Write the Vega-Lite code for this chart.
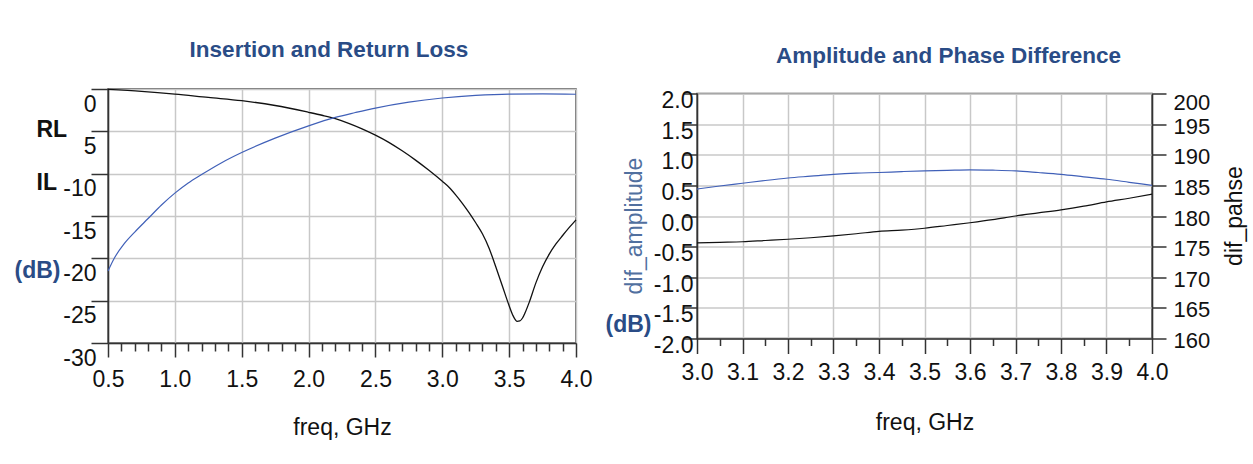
{
  "$schema": "https://vega.github.io/schema/vega-lite/v6.json",
  "background": "white",
  "padding": {"left": 13, "top": 38, "right": 5, "bottom": 5},
  "datasets": {
    "loss": [
      {"f": 0.5, "series": "RL", "db": -0.05}, {"f": 0.75, "series": "RL", "db": -0.28},
      {"f": 1.0, "series": "RL", "db": -0.6}, {"f": 1.25, "series": "RL", "db": -1.0},
      {"f": 1.5, "series": "RL", "db": -1.38}, {"f": 1.75, "series": "RL", "db": -1.95},
      {"f": 2.0, "series": "RL", "db": -2.75}, {"f": 2.1, "series": "RL", "db": -3.1},
      {"f": 2.2, "series": "RL", "db": -3.5}, {"f": 2.3, "series": "RL", "db": -4.05},
      {"f": 2.4, "series": "RL", "db": -4.7}, {"f": 2.5, "series": "RL", "db": -5.45},
      {"f": 2.6, "series": "RL", "db": -6.3}, {"f": 2.7, "series": "RL", "db": -7.3},
      {"f": 2.8, "series": "RL", "db": -8.4}, {"f": 2.9, "series": "RL", "db": -9.6},
      {"f": 3.0, "series": "RL", "db": -10.9}, {"f": 3.05, "series": "RL", "db": -11.6},
      {"f": 3.1, "series": "RL", "db": -12.5}, {"f": 3.15, "series": "RL", "db": -13.5},
      {"f": 3.2, "series": "RL", "db": -14.6}, {"f": 3.25, "series": "RL", "db": -15.8},
      {"f": 3.3, "series": "RL", "db": -17.1}, {"f": 3.35, "series": "RL", "db": -18.8},
      {"f": 3.4, "series": "RL", "db": -21.0}, {"f": 3.45, "series": "RL", "db": -23.3},
      {"f": 3.5, "series": "RL", "db": -25.6}, {"f": 3.53, "series": "RL", "db": -26.8},
      {"f": 3.56, "series": "RL", "db": -27.45}, {"f": 3.58, "series": "RL", "db": -27.4},
      {"f": 3.6, "series": "RL", "db": -27.05}, {"f": 3.62, "series": "RL", "db": -26.4},
      {"f": 3.65, "series": "RL", "db": -25.2}, {"f": 3.7, "series": "RL", "db": -22.9},
      {"f": 3.75, "series": "RL", "db": -21.0}, {"f": 3.8, "series": "RL", "db": -19.5},
      {"f": 3.85, "series": "RL", "db": -18.3}, {"f": 3.9, "series": "RL", "db": -17.3},
      {"f": 3.95, "series": "RL", "db": -16.35}, {"f": 4.0, "series": "RL", "db": -15.45},
      {"f": 0.5, "series": "IL", "db": -21.5}, {"f": 0.55, "series": "IL", "db": -19.9},
      {"f": 0.62, "series": "IL", "db": -18.3}, {"f": 0.7, "series": "IL", "db": -16.9},
      {"f": 0.8, "series": "IL", "db": -15.3}, {"f": 0.9, "series": "IL", "db": -13.7},
      {"f": 1.0, "series": "IL", "db": -12.3}, {"f": 1.1, "series": "IL", "db": -11.1},
      {"f": 1.2, "series": "IL", "db": -10.1}, {"f": 1.35, "series": "IL", "db": -8.7},
      {"f": 1.5, "series": "IL", "db": -7.5}, {"f": 1.75, "series": "IL", "db": -5.8},
      {"f": 2.0, "series": "IL", "db": -4.35}, {"f": 2.2, "series": "IL", "db": -3.35},
      {"f": 2.35, "series": "IL", "db": -2.78}, {"f": 2.5, "series": "IL", "db": -2.25},
      {"f": 2.75, "series": "IL", "db": -1.55}, {"f": 3.0, "series": "IL", "db": -1.06},
      {"f": 3.25, "series": "IL", "db": -0.75}, {"f": 3.5, "series": "IL", "db": -0.6},
      {"f": 3.75, "series": "IL", "db": -0.58}, {"f": 4.0, "series": "IL", "db": -0.62}
    ],
    "diff": [
      {"f": 3.0, "amp": 0.44, "phase": 175.6}, {"f": 3.05, "amp": 0.49, "phase": 175.7},
      {"f": 3.1, "amp": 0.535, "phase": 175.8}, {"f": 3.15, "amp": 0.58, "phase": 176.0},
      {"f": 3.2, "amp": 0.62, "phase": 176.2}, {"f": 3.25, "amp": 0.65, "phase": 176.45},
      {"f": 3.3, "amp": 0.68, "phase": 176.75}, {"f": 3.35, "amp": 0.7, "phase": 177.1},
      {"f": 3.4, "amp": 0.71, "phase": 177.5}, {"f": 3.45, "amp": 0.725, "phase": 177.7},
      {"f": 3.5, "amp": 0.737, "phase": 178.0}, {"f": 3.55, "amp": 0.745, "phase": 178.45},
      {"f": 3.6, "amp": 0.753, "phase": 178.9}, {"f": 3.65, "amp": 0.748, "phase": 179.4},
      {"f": 3.7, "amp": 0.737, "phase": 180.0}, {"f": 3.75, "amp": 0.71, "phase": 180.5},
      {"f": 3.8, "amp": 0.68, "phase": 181.0}, {"f": 3.85, "amp": 0.64, "phase": 181.6},
      {"f": 3.9, "amp": 0.6, "phase": 182.3}, {"f": 3.95, "amp": 0.55, "phase": 182.9},
      {"f": 4.0, "amp": 0.5, "phase": 183.56}
    ]
  },
  "bounds": "flush",
  "center": true,
  "spacing": 121,
  "hconcat": [
    {
      "width": 468,
      "height": 254,
      "title": {"text": "Insertion and Return Loss", "dx": -13, "offset": 25},
      "data": {"name": "loss"},
      "layer": [
        {
          "transform": [{"filter": "datum.series == 'RL'"}],
          "mark": {"type": "line", "color": "#111111", "strokeWidth": 1.3, "interpolate": "monotone"},
          "encoding": {
            "x": {
              "field": "f", "type": "quantitative",
              "scale": {"domain": [0.5, 4.0], "nice": false, "zero": false},
              "axis": {
                "values": [0.5, 1.0, 1.5, 2.0, 2.5, 3.0, 3.5, 4.0], "format": ".1f",
                "tickSize": 14, "labelPadding": 11, "grid": true,
                "title": "freq, GHz", "titlePadding": 25
              }
            },
            "y": {
              "field": "db", "type": "quantitative",
              "scale": {"domain": [-30, 0], "nice": false},
              "axis": {
                "values": [0, -5, -10, -15, -20, -25, -30],
                "labelExpr": "datum.value == -5 ? '5' : datum.label",
                "tickSize": 17, "labelPadding": -5, "labelBaseline": "top", "labelOffset": 4,
                "grid": true, "title": null
              }
            }
          }
        },
        {
          "transform": [{"filter": "datum.series == 'IL'"}],
          "mark": {"type": "line", "color": "#4060b8", "strokeWidth": 1.2, "interpolate": "monotone"},
          "encoding": {
            "x": {
              "field": "f", "type": "quantitative",
              "axis": {
                "orient": "bottom",
                "values": [0.6, 0.7, 0.8, 0.9, 1.1, 1.2, 1.3, 1.4, 1.6, 1.7, 1.8, 1.9, 2.1, 2.2, 2.3, 2.4, 2.6, 2.7, 2.8, 2.9, 3.1, 3.2, 3.3, 3.4, 3.6, 3.7, 3.8, 3.9],
                "tickSize": 8, "labels": false, "grid": false, "domain": false, "title": null
              }
            },
            "y": {
              "field": "db", "type": "quantitative",
              "axis": {
                "orient": "left",
                "values": [-4.8, -11.1],
                "labelExpr": "datum.value > -8 ? 'RL' : 'IL'",
                "labelFontWeight": "bold", "labelAlign": "left", "labelBaseline": "middle",
                "ticks": false, "tickSize": 0, "labelPadding": 72,
                "domain": false, "grid": false,
                "title": "(dB)", "titleAngle": 0, "titleX": -94, "titleY": 181,
                "titleAlign": "left", "titleBaseline": "middle",
                "titleColor": "#2a4c86", "titleFontWeight": "bold"
              }
            }
          }
        }
      ],
      "resolve": {"axis": {"x": "independent", "y": "independent"}}
    },
    {
      "width": 455,
      "height": 245,
      "title": {"text": "Amplitude and Phase Difference", "dx": 24, "offset": 22},
      "data": {"name": "diff"},
      "layer": [
        {
          "mark": {"type": "line", "color": "#4060b8", "strokeWidth": 1.2, "interpolate": "monotone"},
          "encoding": {
            "x": {
              "field": "f", "type": "quantitative",
              "scale": {"domain": [3.0, 4.0], "nice": false, "zero": false},
              "axis": {
                "values": [3.0, 3.1, 3.2, 3.3, 3.4, 3.5, 3.6, 3.7, 3.8, 3.9, 4.0], "format": ".1f",
                "tickSize": 15, "labelPadding": 8, "grid": true,
                "title": "freq, GHz", "titlePadding": 27
              }
            },
            "y": {
              "field": "amp", "type": "quantitative",
              "scale": {"domain": [-2, 2], "nice": false},
              "axis": {
                "values": [-2, -1.5, -1, -0.5, 0, 0.5, 1, 1.5, 2], "format": ".1f",
                "tickSize": 14, "labelPadding": -10, "labelOffset": 7, "grid": true,
                "title": "dif_amplitude", "titleColor": "#51709f",
                "titleAngle": -90, "titleX": -63, "titleY": 132,
                "titleAlign": "center", "titleBaseline": "middle"
              }
            }
          }
        },
        {
          "mark": {"type": "line", "color": "#111111", "strokeWidth": 1.2, "interpolate": "monotone"},
          "encoding": {
            "x": {
              "field": "f", "type": "quantitative",
              "axis": {
                "orient": "bottom",
                "values": [3.05, 3.15, 3.25, 3.35, 3.45, 3.55, 3.65, 3.75, 3.85, 3.95],
                "tickSize": 7, "labels": false, "grid": false, "domain": false,
                "title": "(dB)", "titleAngle": 0, "titleX": -92, "titleY": -14,
                "titleAlign": "left", "titleBaseline": "middle",
                "titleColor": "#2a4c86", "titleFontWeight": "bold"
              }
            },
            "y": {
              "field": "phase", "type": "quantitative",
              "scale": {"domain": [160, 200], "nice": false, "zero": false},
              "axis": {
                "orient": "right",
                "values": [160, 165, 170, 175, 180, 185, 190, 195, 200],
                "tickSize": 14, "labelPadding": 7, "labelFontSize": 22, "grid": false,
                "labelOffset": {"condition": {"test": "datum.value == 200", "value": -1}, "value": 2},
                "labelBaseline": {"condition": {"test": "datum.value == 200", "value": "top"}, "value": "middle"},
                "title": "dif_pahse", "titleAngle": -90, "titleX": 82, "titleY": 122,
                "titleAlign": "center", "titleBaseline": "middle"
              }
            }
          }
        }
      ],
      "resolve": {"scale": {"y": "independent"}, "axis": {"x": "independent", "y": "independent"}}
    }
  ],
  "config": {
    "locale": {"number": {"decimal": ".", "thousands": ",", "grouping": [3], "currency": ["$", ""], "minus": "-"}},
    "font": "Liberation Sans",
    "view": {"stroke": "#444444", "strokeWidth": 1.5},
    "title": {"font": "Liberation Sans", "fontSize": 22.5, "fontWeight": "bold", "color": "#2a4c86", "anchor": "middle", "frame": "group"},
    "axis": {
      "labelFont": "Liberation Sans", "labelFontSize": 23, "labelColor": "#111111",
      "labelFlush": false, "labelOverlap": false, "labelBound": false,
      "titleFont": "Liberation Sans", "titleFontSize": 23, "titleFontWeight": "normal", "titleColor": "#111111",
      "tickColor": "#333333", "tickWidth": 1.5,
      "domainColor": "#333333", "domainWidth": 1.5,
      "gridColor": "#c8c8c8", "gridWidth": 1.5
    }
  }
}
